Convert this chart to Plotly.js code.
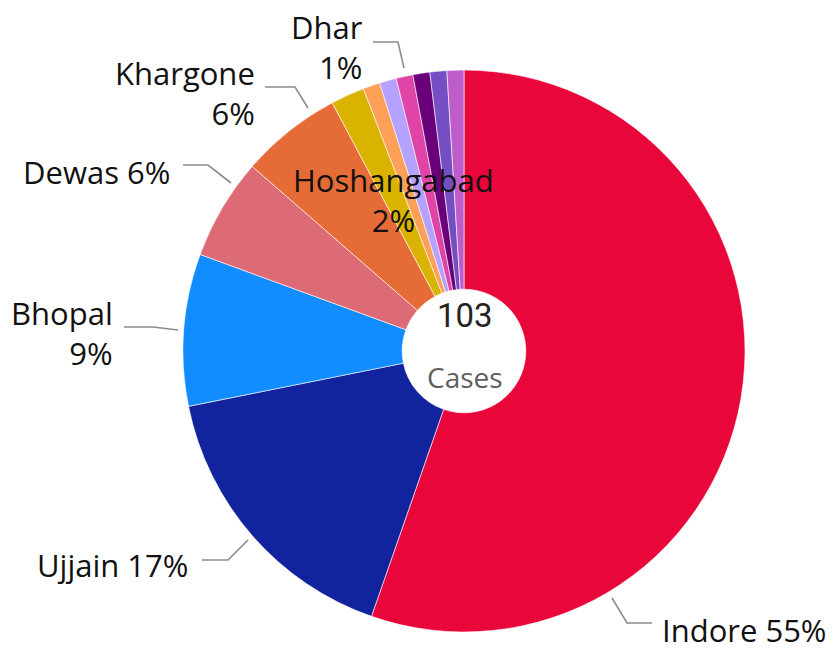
<!DOCTYPE html>
<html>
<head>
<meta charset="utf-8">
<script src="https://cdn.plot.ly/plotly-3.0.1.min.js"></script>
<style>html,body{margin:0;padding:0;background:#fff;}#chart{width:840px;height:648px;}</style>
</head>
<body>
<div id="chart"></div>
<script>
// Data
const districts = ["Indore","Ujjain","Bhopal","Dewas","Khargone","Hoshangabad","Gwalior","Jabalpur","Dhar","Shivpuri","Morena","Chhindwara"];
const cases = [57,17,9,6,6,2,1,1,1,1,1,1];
const colors = ["#E8063A","#12239E","#118DFF","#DD6B75","#E66C37","#D9B300","#FFA058","#B5A1FF","#E044A7","#6B007B","#744EC2","#BE5DC9"];
const centerValue = "103";
const centerLabel = "Cases";

// Labels shown (index -> placement), pixel positions for text and leader lines
const W = 840, H = 648;
const px = x => x / W, py = y => 1 - y / H;
const total = cases.reduce((a,b)=>a+b,0);
const pct = i => Math.round(cases[i] / total * 100) + "%";

const labelSpecs = [
  {i:0, x:660, y:630, xa:"left",  sep:" ",    line:[[612,598],[627,623],[652,623]]},
  {i:1, x:190, y:565, xa:"right", sep:" ",    line:[[248,540],[228,560],[202,560]]},
  {i:2, x:115, y:333, xa:"right", sep:"<br>", line:[[178,330],[153,327],[124,327]]},
  {i:3, x:172, y:172, xa:"right", sep:" ",    line:[[231,183],[208,165],[183,165]]},
  {i:4, x:257, y:93,  xa:"right", sep:"<br>", line:[[308,108],[295,87],[265,87]]},
  {i:8, x:365, y:47,  xa:"right", sep:"<br>", line:[[404,68],[398,42],[373,42]]},
  {i:5, x:393, y:200, xa:"center",sep:"<br>", line:null}
];

const labelFont = {family:"'Open Sans', 'Noto Sans', sans-serif", size:31, color:"#111111"};

const annotations = labelSpecs.map(s => ({
  xref:"paper", yref:"paper", x:px(s.x), y:py(s.y),
  xanchor:s.xa, yanchor:"middle", align:s.xa === "center" ? "center" : s.xa,
  text: districts[s.i] + s.sep + pct(s.i),
  showarrow:false, font:labelFont
}));
annotations.push({xref:"paper", yref:"paper", x:px(465), y:py(316), xanchor:"center", yanchor:"middle",
  text:centerValue, showarrow:false, font:{family:"Roboto, sans-serif", size:33, color:"#252423"}});
annotations.push({xref:"paper", yref:"paper", x:px(465), y:py(377), xanchor:"center", yanchor:"middle",
  text:centerLabel, showarrow:false, font:{family:"'Open Sans', sans-serif", size:28, color:"#605E5C"}});

const shapes = labelSpecs.filter(s => s.line).map(s => ({
  type:"path", xref:"paper", yref:"paper",
  path: s.line.map((p,k)=> (k?"L":"M") + px(p[0]) + "," + py(p[1])).join(" "),
  line:{color:"#8C8C8C", width:1.6}
}));

const trace = {
  type:"pie", labels:districts, values:cases, sort:false, direction:"clockwise", rotation:0,
  hole:0.22, textinfo:"none", hoverinfo:"label+value+percent",
  marker:{colors:colors, line:{color:"#ffffff", width:0.6}},
  domain:{x:[183/W, 745/W], y:[16/H, 578/H]}
};

const layout = {
  width:W, height:H, margin:{l:0,r:0,t:0,b:0}, showlegend:false,
  paper_bgcolor:"#ffffff", plot_bgcolor:"#ffffff",
  annotations:annotations, shapes:shapes
};

Plotly.newPlot("chart", [trace], layout, {displayModeBar:false, staticPlot:true});
</script>
</body>
</html>
